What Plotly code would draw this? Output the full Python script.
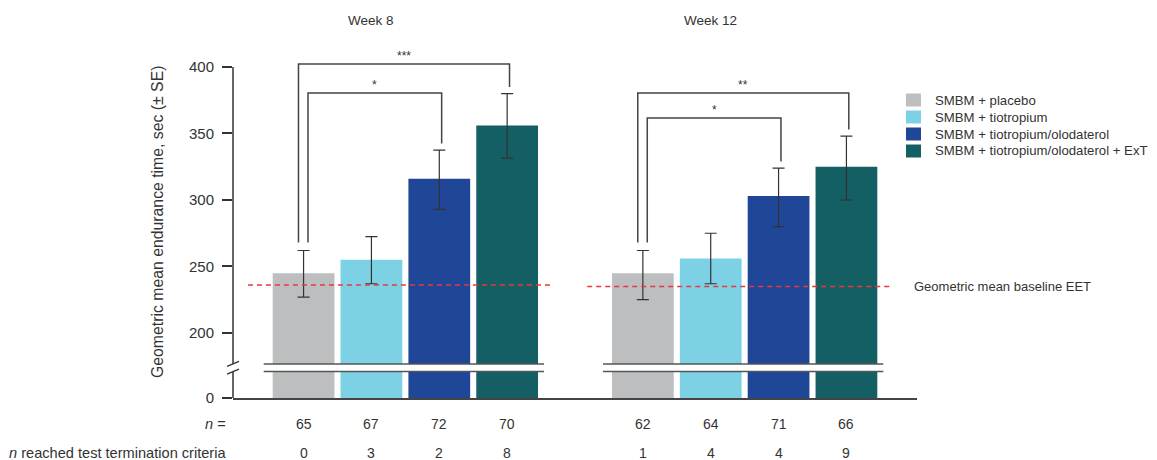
import plotly.graph_objects as go

# ---- data -------------------------------------------------------------
visits = ["Week 8", "Week 12"]
treatments = [
    "SMBM + placebo",
    "SMBM + tiotropium",
    "SMBM + tiotropium/olodaterol",
    "SMBM + tiotropium/olodaterol + ExT",
]
colors = ["#bdbec0", "#7cd1e4", "#1f4697", "#135f63"]

# geometric mean endurance time (sec) and SE limits
week8_mean = [245, 255, 316, 356]
week8_upper = [262, 272.5, 337.5, 380]
week8_lower = [227, 237, 293, 331.5]
week12_mean = [245, 256, 303, 325]
week12_upper = [262, 275, 324, 348]
week12_lower = [225, 237, 280, 300]

n_week8 = [65, 67, 72, 70]
n_week12 = [62, 64, 71, 66]
term_week8 = [0, 3, 2, 8]
term_week12 = [1, 4, 4, 9]

baseline_eet = [236, 235]

# (visit index, bar a, bar b, label)
comparisons = [(0, 0, 2, "*"), (0, 0, 3, "***"), (1, 0, 2, "*"), (1, 0, 3, "**")]

y_ticks = [200, 250, 300, 350, 400]
y_floor = 151.1          # value position of the broken-axis "0"

# ---- layout helpers -----------------------------------------------------
L, R, T, B = 233, 917, 20, 398
W, H = 1157, 460


def px_x(px):
    return (px - L) / (R - L)


def px_y(py):
    return (B - py) / (B - T)


Y_TOP = 400 + (67 - T) / 1.33
ppu = (B - T) / (Y_TOP - y_floor)   # pixels per y unit
X0, X1 = -1.04, 9.04
ppx = (R - L) / (X1 - X0)          # pixels per slot

slots = [[0, 1, 2, 3], [5, 6, 7, 8]]
means = [week8_mean, week12_mean]
uppers = [week8_upper, week12_upper]
lowers = [week8_lower, week12_lower]

FONT = "Liberation Sans, Arial, Helvetica, sans-serif"
TXT = "#333333"

fig = go.Figure()

for k, name in enumerate(treatments):
    xs = [slots[v][k] for v in range(2)]
    ys = [means[v][k] for v in range(2)]
    plus = [uppers[v][k] - means[v][k] for v in range(2)]
    minus = [means[v][k] - lowers[v][k] for v in range(2)]
    fig.add_trace(go.Bar(
        x=xs, y=ys, name=name, width=0.91,
        marker=dict(color=colors[k], line=dict(width=0)),
        error_y=dict(type="data", array=plus, arrayminus=minus,
                     color="#333333", thickness=1.2, width=6),
        showlegend=False,
    ))

shapes = []
annotations = []

# baseline EET reference lines
for v in range(2):
    x_start = slots[v][0] - 0.82
    x_end = slots[v][3] + 0.66
    shapes.append(dict(type="line", xref="x", yref="y",
                       x0=x_start, x1=x_end, y0=baseline_eet[v], y1=baseline_eet[v],
                       line=dict(color="#e8383d", width=1.5, dash="5px,4px"),
                       layer="above"))
annotations.append(dict(xref="paper", yref="y", x=px_x(912), y=baseline_eet[1],
                        text="Geometric mean baseline EET", showarrow=False,
                        xanchor="left", yanchor="middle",
                        font=dict(size=13, color=TXT, family=FONT)))

# broken-axis band across the bars
brk_lo, brk_hi = 171.0, 176.7
for v in range(2):
    xa = slots[v][0] - 0.455 - 9 / ppx
    xb = slots[v][3] + 0.455 + 6 / ppx
    shapes.append(dict(type="rect", xref="x", yref="y", x0=xa, x1=xb,
                       y0=brk_lo, y1=brk_hi, fillcolor="white",
                       line=dict(width=0), layer="above"))
    for yy in (brk_lo, brk_hi):
        shapes.append(dict(type="line", xref="x", yref="y", x0=xa, x1=xb,
                           y0=yy, y1=yy, line=dict(color="#555555", width=1.6),
                           layer="above"))

# y-axis line with break marks
shapes.append(dict(type="line", xref="paper", yref="y", x0=0, x1=0,
                   y0=brk_hi, y1=400, line=dict(color="#333333", width=1.5)))
shapes.append(dict(type="line", xref="paper", yref="y", x0=0, x1=0,
                   y0=y_floor, y1=brk_lo, line=dict(color="#333333", width=1.5)))
for yy in (brk_lo, brk_hi):
    shapes.append(dict(type="line", xref="paper", yref="y",
                       x0=px_x(L - 6), x1=px_x(L + 6),
                       y0=yy - 2.5 / ppu, y1=yy + 2.5 / ppu,
                       line=dict(color="#333333", width=1.3)))

# significance brackets
bracket_tops = {(0, 3): 402.3, (0, 2): 380.5, (1, 3): 380.5, (1, 2): 361.7}
left_offsets = {2: 0.065, 3: -0.075}
for v, a, b, label in comparisons:
    top = bracket_tops[(v, b)]
    xa = slots[v][a] + left_offsets[b]
    xb = slots[v][b] + 0.035
    ya = uppers[v][a] + 6
    yb = uppers[v][b] + 5
    shapes.append(dict(type="path", xref="x", yref="y",
                       path=f"M {xa},{ya} L {xa},{top} L {xb},{top} L {xb},{yb}",
                       line=dict(color="#444444", width=1.5)))
    annotations.append(dict(xref="x", yref="y", x=(xa + xb) / 2, y=top,
                            text=label, showarrow=False, xanchor="center",
                            yanchor="bottom", yshift=-1,
                            font=dict(size=12, color=TXT, family=FONT)))

# visit titles
for v, title in enumerate(visits):
    annotations.append(dict(xref="x", yref="paper", x=slots[v][1], y=px_y(20),
                            text=title, showarrow=False, xanchor="center",
                            yanchor="middle",
                            font=dict(size=13.5, color=TXT, family=FONT)))

# y-axis title
annotations.append(dict(xref="paper", yref="paper", x=px_x(157), y=px_y(222),
                        text="Geometric mean endurance time, sec (± SE)",
                        textangle=-90, showarrow=False, xanchor="center",
                        yanchor="middle",
                        font=dict(size=15.8, color=TXT, family=FONT)))

# counts below the axis
rows = [("<i>n</i> =", [n_week8, n_week12], 424),
        ("<i>n</i> reached test termination criteria", [term_week8, term_week12], 453)]
for label, vals, py in rows:
    annotations.append(dict(xref="paper", yref="paper", x=px_x(228), y=px_y(py),
                            text=label, showarrow=False, xanchor="right",
                            yanchor="middle",
                            font=dict(size=14.6, color=TXT, family=FONT)))
    for v in range(2):
        for k in range(4):
            annotations.append(dict(xref="x", yref="paper", x=slots[v][k], y=px_y(py),
                                    text=str(vals[v][k]), showarrow=False,
                                    xanchor="center", yanchor="middle",
                                    font=dict(size=14, color=TXT, family=FONT)))

# legend
legend_rows = [100, 117, 134, 151]
for k, name in enumerate(treatments):
    cy = legend_rows[k]
    shapes.append(dict(type="rect", xref="paper", yref="paper",
                       x0=px_x(906), x1=px_x(921), y0=px_y(cy + 6.5), y1=px_y(cy - 6.5),
                       fillcolor=colors[k], line=dict(width=0)))
    annotations.append(dict(xref="paper", yref="paper", x=px_x(933), y=px_y(cy),
                            text=name, showarrow=False, xanchor="left",
                            yanchor="middle",
                            font=dict(size=13.2, color=TXT, family=FONT)))

fig.update_layout(
    width=W, height=H, autosize=False,
    margin=dict(l=L, r=W - R, t=T, b=H - B, pad=0),
    paper_bgcolor="white", plot_bgcolor="white",
    barmode="overlay",
    font=dict(family=FONT, color=TXT),
    shapes=shapes, annotations=annotations,
    xaxis=dict(range=[X0, X1], showgrid=False, zeroline=False,
               showticklabels=False, ticks="", showline=True,
               linecolor="#444444", linewidth=1.5),
    yaxis=dict(range=[y_floor, Y_TOP], showgrid=False, zeroline=False,
               showline=False,
               tickvals=[y_floor] + y_ticks,
               ticktext=["0"] + [str(t) for t in y_ticks],
               ticks="outside", ticklen=10, tickwidth=1.5, tickcolor="#333333",
               ticklabelstandoff=5,
               tickfont=dict(size=15, color=TXT, family=FONT)),
)

fig.write_html("out.html")
